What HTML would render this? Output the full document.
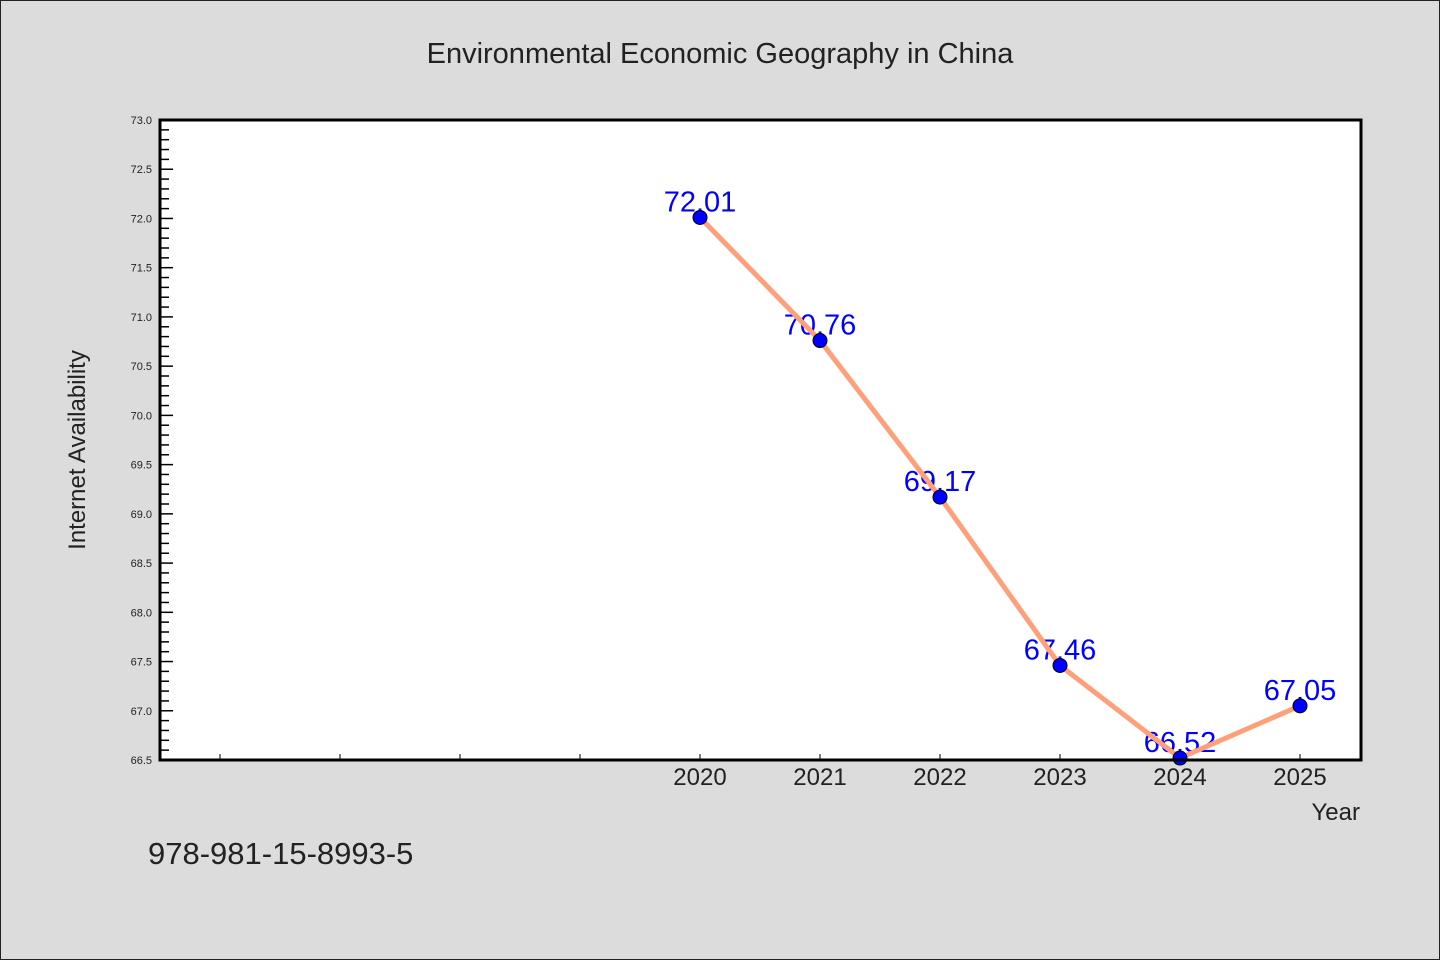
<!DOCTYPE html>
<html><head><meta charset="utf-8"><style>
body{margin:0;background:#dcdcdc;}
svg{display:block;font-family:"WenQuanYi Zen Hei","Liberation Sans",sans-serif;}
</style></head><body>
<svg id="chart" width="1440" height="960">
<rect x="0.5" y="0.5" width="1439" height="959" fill="#dcdcdc" stroke="#222"/>
<text x="720" y="63" text-anchor="middle" font-size="29" fill="#222">Environmental Economic Geography in China</text>
<rect x="160" y="120" width="1201" height="640" fill="#fff"/>
<g id="yticks"></g><g id="xticks"></g><g id="labels"></g><g id="series"></g>
<rect x="160" y="120" width="1201" height="640" fill="none" stroke="#000" stroke-width="3"/>
<text transform="translate(85,450) rotate(-90)" text-anchor="middle" font-size="24" fill="#222">Internet Availability</text>
<text x="1360" y="820" text-anchor="end" font-size="24" fill="#222">Year</text>
<text x="148" y="864" font-size="31" fill="#222">978-981-15-8993-5</text>
</svg>
<script>
const years=[2020,2021,2022,2023,2024,2025];
const values=[72.01,70.76,69.17,67.46,66.52,67.05];
const valueLabels=["72.01","70.76","69.17","67.46","66.52","67.05"];
const yMin=66.5,yMax=73.0,xMin=2015.5,xMax=2025.5;
const NS="http://www.w3.org/2000/svg";
const X=v=>160+(v-xMin)/(xMax-xMin)*1200;
const Y=v=>760-(v-yMin)/(yMax-yMin)*640;
function mk(t,a,p){const e=document.createElementNS(NS,t);for(const k in a)e.setAttribute(k,a[k]);p.appendChild(e);return e;}
const yt=document.getElementById('yticks');
for(let i=0;i<=65;i++){const v=yMin+i*0.1;const y=Y(v);const major=i%5===0;
 const l=mk('line',{x1:160,x2:major?173:169,y1:y,y2:y,stroke:'#000','stroke-width':1.5},yt);
 
 
 if(major){const t=mk('text',{x:152,y:y+4,'text-anchor':'end','font-size':11,fill:'#222'},yt);t.textContent=v.toFixed(1);
 
 }}
const xt=document.getElementById('xticks');
for(let yr=2016;yr<=2025;yr++){const x=X(yr);
 const l=mk('line',{x1:x,x2:x,y1:760,y2:754,stroke:'#000','stroke-width':1},xt);
 
 }
years.forEach(yr=>{const t=mk('text',{x:X(yr),y:785,'text-anchor':'middle','font-size':24,fill:'#222'},xt);t.textContent=yr;
 
 });
const lb=document.getElementById('labels');
years.forEach((yr,i)=>{const t=mk('text',{x:X(yr),y:Y(values[i])-6,'text-anchor':'middle','font-size':29,fill:'#0000ff'},lb);t.textContent=valueLabels[i];
 
 });
const s=document.getElementById('series');
const p=mk('polyline',{points:years.map((yr,i)=>X(yr)+','+Y(values[i])).join(' '),fill:'none',stroke:'#ffa07a','stroke-width':5},s);


years.forEach((yr,i)=>{const c=mk('circle',{cx:X(yr),cy:Y(values[i]),r:7,fill:'#0000ff',stroke:'#000','stroke-width':1},s);
 
 });
</script>
</body></html>
